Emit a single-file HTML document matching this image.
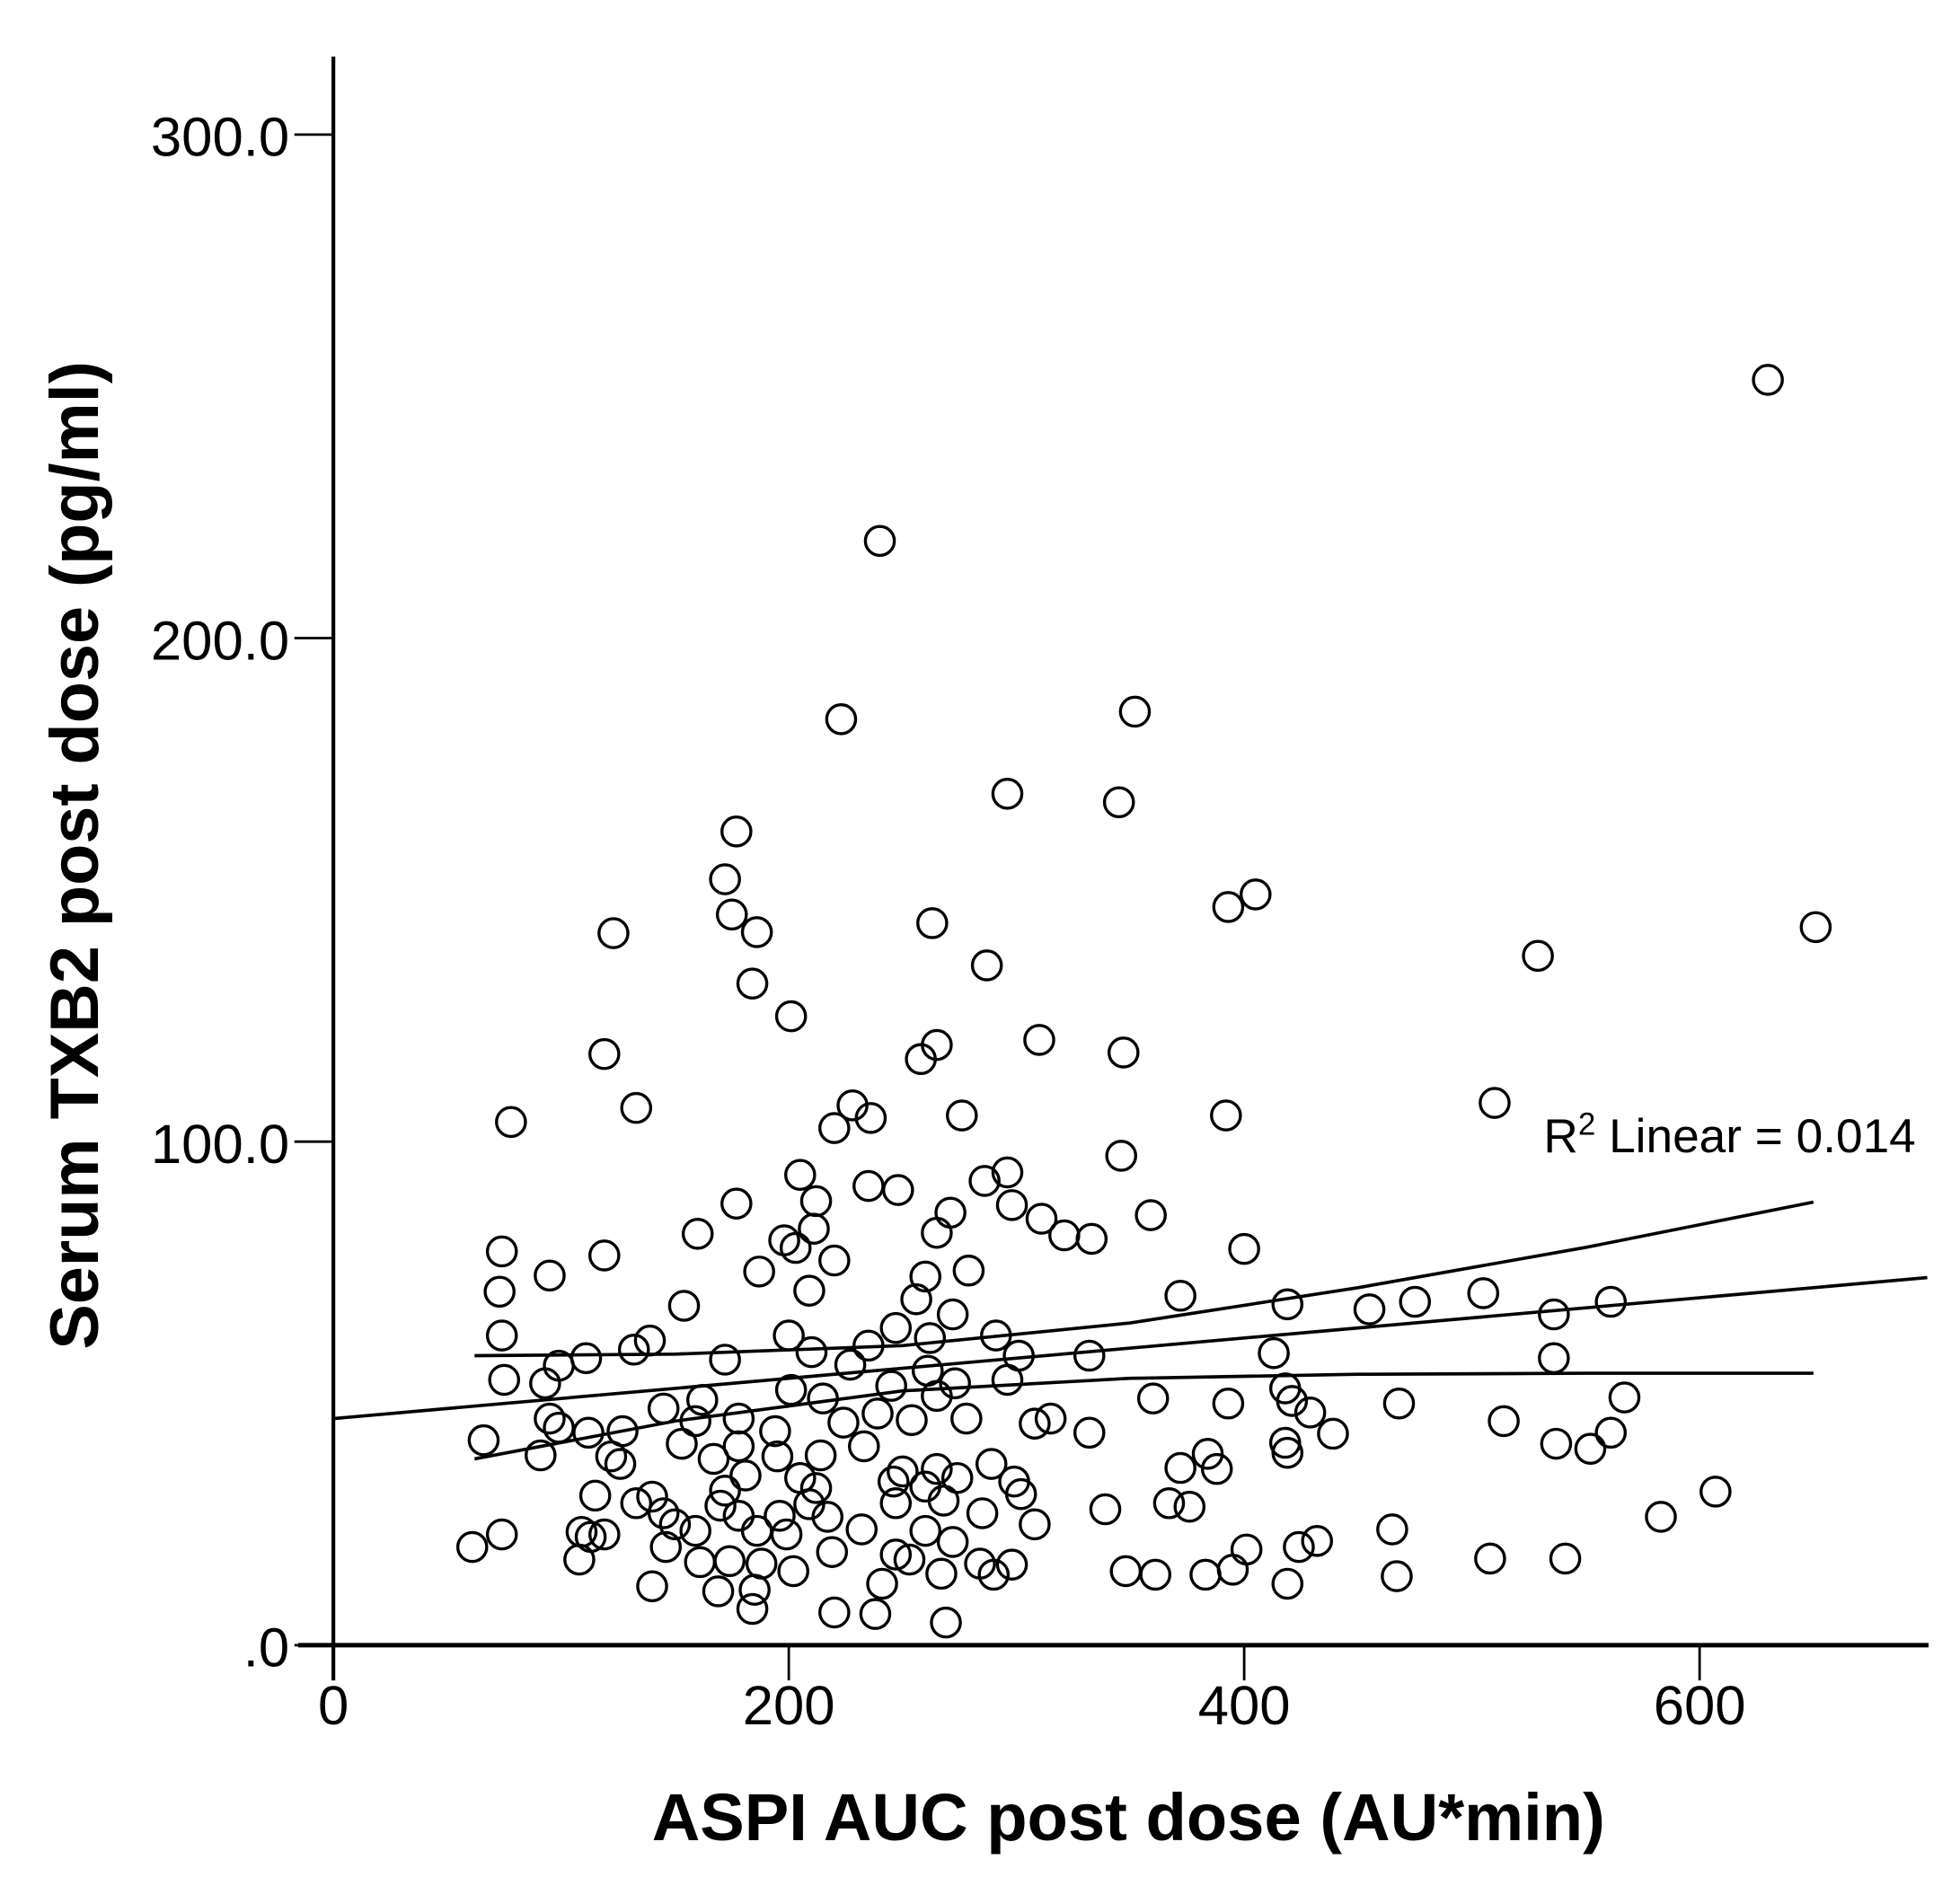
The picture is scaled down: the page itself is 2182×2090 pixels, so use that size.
<!DOCTYPE html>
<html><head><meta charset="utf-8"><style>
html,body{margin:0;padding:0;background:#fff;}
svg{display:block;}
text{font-family:"Liberation Sans",sans-serif;fill:#000;}
</style></head><body>
<svg id="chart" width="2182" height="2090" viewBox="0 0 1558 1492.3" xmlns="http://www.w3.org/2000/svg">
<g id="plot"></g>
<text transform="translate(78,680) rotate(-90)" text-anchor="middle" font-size="54" font-weight="bold">Serum TXB2 post dose (pg/ml)</text>
<text x="897" y="1463" text-anchor="middle" font-size="53" font-weight="bold">ASPI AUC post dose (AU*min)</text>
<text x="1227" y="916" font-size="38">R<tspan font-size="25" dy="-14">2</tspan><tspan dy="14"> Linear = 0.014</tspan></text>
</svg>
<script>
const xTicks=[0,200,400,600];
const yTicks=[0,100,200,300];
const yTickLabels=[".0","100.0","200.0","300.0"];
const xVals=[630,240,223,352,296,345,177,172,175,186,123,263,393,405,651,529,287,184,201,119,265,258,310,347,78,133,228,220,236,276,392,510,346,205,235,248,286,296,212,177,298,271,359,311,211,160,198,265,321,333,74,203,400,119,220,187,279,95,260,209,73,372,505,475,419,455,561,536,256,154,272,74,139,200,247,262,291,132,111,172,210,235,301,332,413,536,99,227,261,75,93,201,296,245,273,418,360,393,421,468,567,145,162,215,265,429,178,254,278,315,308,514,95,99,159,224,239,112,127,194,332,439,561,66,153,178,233,418,552,91,122,419,384,126,167,195,214,372,388,250,265,289,537,181,205,246,274,299,115,172,212,260,302,607,133,140,170,209,247,268,367,376,339,145,178,196,217,285,583,150,186,308,109,113,119,74,159,199,232,260,465,61,146,219,247,272,401,432,424,108,161,174,188,253,284,298,508,541,348,361,383,395,202,267,290,467,140,169,419,185,241,184,220,238,269];
const yVals=[251.3,219.3,183.9,185.4,169.1,167.4,161.6,152.1,145.1,141.6,141.4,143.4,146.6,149.1,142.6,136.9,135,131.4,124.9,117.4,119.2,116.4,120.2,117.7,103.9,106.7,107.2,102.7,104.7,105.2,105.2,107.7,97.2,93.4,91.2,90.4,92.2,93.9,88.2,87.7,87.4,85.9,85.4,84.7,82.7,81.7,80.4,81.9,81.4,80.7,78.2,78.9,78.7,77.4,76.4,74.2,74.4,73.4,73.2,70.4,70.2,69.4,69.9,68.2,67.7,66.7,68.2,65.7,68.7,67.4,65.7,61.5,60.5,61.5,63,61,61.5,58.7,57,56.7,58.2,59.5,57.5,57.5,58,57,55.5,55.7,54.5,52.7,52,50.7,52.7,51.5,52,51,49,48,48.5,48,49.2,47,48.7,49,49.5,46.2,45,44.7,45,45,44,44.5,45,43.2,44.5,44.2,46,42.2,42.5,42.5,42.2,42,42.2,40.7,40,39.5,39.5,40.2,39,37.7,37.5,38.2,38,36,37,37.5,37.7,35.2,35,34.5,35,36,40,33.7,33.2,32.5,33.2,32.5,29.7,30.7,31.2,31.5,30,30.5,28.2,29.5,27.7,28,28.2,28.7,28.2,27.5,27,26.2,25.7,25.7,25.5,26.2,25.5,24,22.7,24,22.5,21.5,22,22,22.7,22,23,22.7,23,19.5,19.5,18.5,18,20.5,19,20.7,19.5,17,16.5,16.7,16.2,17,16.2,16,17.2,17.2,14.7,14,14,15,14.7,14.2,14,13.7,11.7,10.7,12.2,11,12.2,7.2,6.5,6.2,4.5];
const fitX=[0,700];
const fitY=[45,73];
const bandX=[62,150,250,350,450,550,650];
const upperY=[57.5,57.8,59.5,64,71,79,88];
const lowerY=[37,44.5,50.5,53,53.8,54,54];

const X0=265,XS=(1351-265)/600,Y0=1308,YS=(1308-107)/300;
const sx=v=>X0+v*XS, sy=v=>Y0-v*YS;
const NS="http://www.w3.org/2000/svg";
const g=document.getElementById('plot');
function mk(t,a){const e=document.createElementNS(NS,t);for(const k in a)e.setAttribute(k,a[k]);g.appendChild(e);return e;}

for(let i=0;i<xVals.length;i++){
  const c=mk('circle',{cx:sx(xVals[i]),cy:sy(yVals[i]),r:11.5,fill:'none',stroke:'#000','stroke-width':2.4});
  
  
}
const fl=mk('line',{x1:sx(fitX[0]),y1:sy(fitY[0]),x2:sx(fitX[1]),y2:sy(fitY[1]),stroke:'#000','stroke-width':2.6});


function band(arr){return bandX.map((x,i)=>(i?'L':'M')+sx(x)+','+sy(arr[i])).join(' ');}
const ub=mk('path',{d:band(upperY),fill:'none',stroke:'#000','stroke-width':2.6});


const lb=mk('path',{d:band(lowerY),fill:'none',stroke:'#000','stroke-width':2.6});



const ya=mk('line',{x1:X0,y1:45,x2:X0,y2:1336,stroke:'#000','stroke-width':3});


const xa=mk('line',{x1:237,y1:Y0,x2:1533,y2:Y0,stroke:'#000','stroke-width':3.5});



xTicks.forEach(v=>{
  const t=mk('line',{x1:sx(v),y1:Y0,x2:sx(v),y2:Y0+28,stroke:'#000','stroke-width':2});
  
  
  const l=mk('text',{x:sx(v),y:Y0+63,'text-anchor':'middle','font-size':44});
  l.textContent=v;
  
  
});
yTicks.forEach((v,i)=>{
  const t=mk('line',{x1:X0-31,y1:sy(v),x2:X0,y2:sy(v),stroke:'#000','stroke-width':2});
  
  
  const l=mk('text',{x:X0-35,y:sy(v)+17,'text-anchor':'end','font-size':44});
  l.textContent=yTickLabels[i];
  
  
});
</script>
</body></html>
